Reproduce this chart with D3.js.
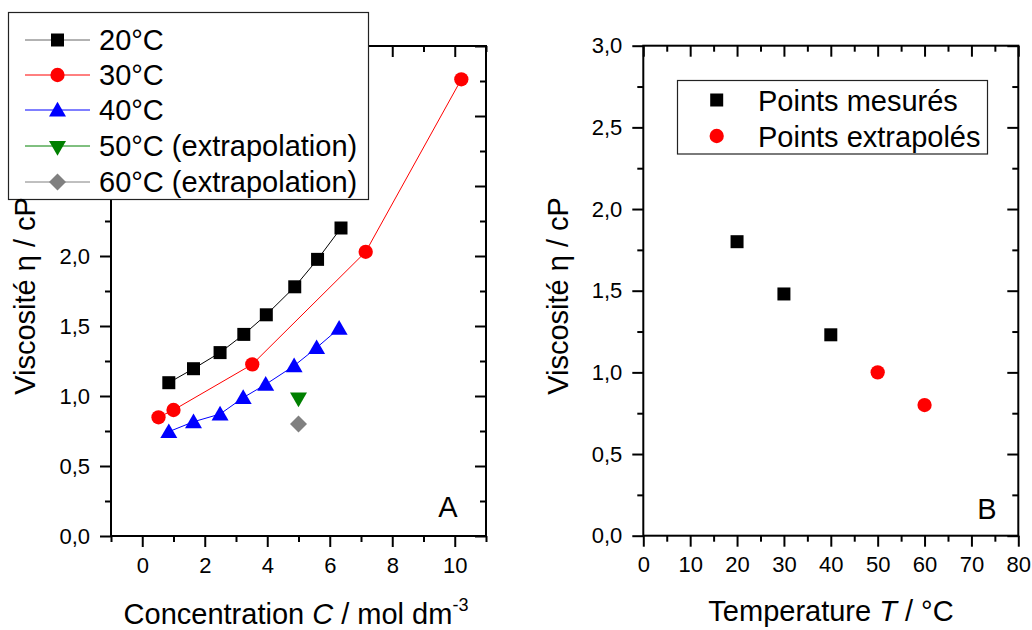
<!DOCTYPE html>
<html><head><meta charset="utf-8">
<script src="https://cdn.jsdelivr.net/npm/d3@7"></script>
<style>
html,body{margin:0;padding:0;background:#fff;}
svg{display:block;font-family:Arial,"Liberation Sans",sans-serif;}
</style></head>
<body>
<svg id="chart" width="1032" height="630"></svg>
<script>
// ---------- Data: panel A (viscosity vs concentration) ----------
const conc20 = [0.85, 1.64, 2.49, 3.25, 3.97, 4.88, 5.61, 6.36];
const visc20 = [1.095, 1.195, 1.31, 1.44, 1.58, 1.78, 1.976, 2.20];
const conc30 = [0.52, 1.0, 3.52, 7.15, 10.21];
const visc30 = [0.848, 0.90, 1.226, 2.03, 3.262];
const conc40 = [0.85, 1.64, 2.49, 3.23, 3.95, 4.86, 5.58, 6.30];
const visc40 = [0.745, 0.816, 0.871, 0.988, 1.083, 1.216, 1.345, 1.483];
const conc50 = [5.0];
const visc50 = [0.99];
const conc60 = [5.0];
const visc60 = [0.80];
const legendA = ["20°C", "30°C", "40°C", "50°C (extrapolation)", "60°C (extrapolation)"];

// ---------- Data: panel B (viscosity vs temperature) ----------
const tempMeasured = [20, 30, 40];
const viscMeasured = [1.80, 1.48, 1.23];
const tempExtrap = [50, 60];
const viscExtrap = [1.00, 0.80];
const legendB = ["Points mesurés", "Points extrapolés"];

// ---------- Ticks ----------
const xMajorA = [0, 2, 4, 6, 8, 10];
const xMinorA = [-1, 1, 3, 5, 7, 9, 11];
const yMajorA = [0, 0.5, 1.0, 1.5, 2.0, 2.5, 3.0, 3.5];
const yMinorA = [0.25, 0.75, 1.25, 1.75, 2.25, 2.75, 3.25];
const xMajorB = [0, 10, 20, 30, 40, 50, 60, 70, 80];
const xMinorB = [5, 15, 25, 35, 45, 55, 65, 75];
const yMajorB = [0, 0.5, 1.0, 1.5, 2.0, 2.5, 3.0];
const yMinorB = [0.25, 0.75, 1.25, 1.75, 2.25, 2.75];

const svg = d3.select("#chart");
const fmtY = d => d3.format(".1f")(d).replace(".", ",");
const fmtX = d => String(d);

function frame(g, x, y, xMaj, xMin, yMaj, yMin) {
  const [x0, x1] = x.range(), [y0, y1] = y.range();
  const H = y0 - y1, W = x1 - x0;
  const style = sel => {
    sel.select(".domain").remove();
    sel.selectAll(".tick line").attr("stroke", "#000").attr("stroke-width", 2);
    sel.selectAll(".tick text").attr("fill", "#000").style("font-size", "22px").style("font-family", "Arial, 'Liberation Sans', sans-serif");
  };
  // bottom
  g.append("g").attr("transform", `translate(0,${y0})`)
    .call(d3.axisBottom(x).tickValues(xMaj).tickSize(11).tickPadding(10).tickFormat(fmtX)).call(style)
    .selectAll(".tick text").attr("dy", "0.71em");
  g.append("g").attr("transform", `translate(0,${y0})`)
    .call(d3.axisBottom(x).tickValues(xMin).tickSize(6).tickFormat("")).call(style);
  // top (inward)
  g.append("g").attr("transform", `translate(0,${y1})`)
    .call(d3.axisTop(x).tickValues(xMaj).tickSize(-11).tickFormat("")).call(style);
  g.append("g").attr("transform", `translate(0,${y1})`)
    .call(d3.axisTop(x).tickValues(xMin).tickSize(-6).tickFormat("")).call(style);
  // left
  g.append("g").attr("transform", `translate(${x0},0)`)
    .call(d3.axisLeft(y).tickValues(yMaj).tickSize(11).tickPadding(10).tickFormat(fmtY)).call(style);
  g.append("g").attr("transform", `translate(${x0},0)`)
    .call(d3.axisLeft(y).tickValues(yMin).tickSize(6).tickFormat("")).call(style);
  // right (inward)
  g.append("g").attr("transform", `translate(${x1},0)`)
    .call(d3.axisRight(y).tickValues(yMaj).tickSize(-11).tickFormat("")).call(style);
  g.append("g").attr("transform", `translate(${x1},0)`)
    .call(d3.axisRight(y).tickValues(yMin).tickSize(-6).tickFormat("")).call(style);
  g.append("rect").attr("x", x0).attr("y", y1).attr("width", W).attr("height", H)
    .attr("fill", "none").attr("stroke", "#000").attr("stroke-width", 2);
}

const sym = {
  square: d3.symbol().type(d3.symbolSquare).size(169),
  circle: d3.symbol().type(d3.symbolCircle).size(160),
  triangle: d3.symbol().type(d3.symbolTriangle).size(125),
  diamond: d3.symbol().type(d3.symbolSquare).size(144)
};
function marker(g, kind, cx, cy, color) {
  let p;
  if (kind === "down") {
    p = g.append("path").attr("d", sym.triangle()).attr("transform", `translate(${cx},${cy}) rotate(180)`);
  } else if (kind === "diamond") {
    p = g.append("path").attr("d", sym.diamond()).attr("transform", `translate(${cx},${cy}) rotate(45)`);
  } else if (kind === "triangle") {
    p = g.append("path").attr("d", sym.triangle()).attr("transform", `translate(${cx},${cy + 1.5})`);
  } else {
    p = g.append("path").attr("d", sym[kind]()).attr("transform", `translate(${cx},${cy})`);
  }
  p.attr("fill", color);
}

// ================= Panel A =================
const xA = d3.scaleLinear().domain([-1, 11]).range([111, 486]);
const yA = d3.scaleLinear().domain([0, 3.5]).range([536, 46]);
const gA = svg.append("g");

const seriesA = [
  {c: conc20, v: visc20, color: "#000", line: "#000", kind: "square"},
  {c: conc30, v: visc30, color: "#ff0000", line: "#ff0000", kind: "circle"},
  {c: conc40, v: visc40, color: "#0000ff", line: "#0000ff", kind: "triangle"},
  {c: conc50, v: visc50, color: "#008000", line: "#008000", kind: "down"},
  {c: conc60, v: visc60, color: "#808080", line: "#808080", kind: "diamond"}
];
const lineGen = d3.line().x(d => xA(d[0])).y(d => yA(d[1]));
seriesA.forEach(s => {
  const pts = s.c.map((c, i) => [c, s.v[i]]);
  if (pts.length > 1) gA.append("path").attr("d", lineGen(pts)).attr("fill", "none")
    .attr("stroke", s.line).attr("stroke-width", 1);
});
seriesA.forEach(s => {
  s.c.forEach((c, i) => marker(gA, s.kind, xA(c), yA(s.v[i]), s.color));
});
frame(gA, xA, yA, xMajorA, xMinorA, yMajorA, yMinorA);

// legend A
const legA = gA.append("g");
legA.append("rect").attr("x", 8.5).attr("y", 12.5).attr("width", 360).attr("height", 187)
  .attr("fill", "#fff").attr("stroke", "#222").attr("stroke-width", 1.2);
const legRowsA = [40, 75, 110, 146, 182];
seriesA.forEach((s, i) => {
  const y = legRowsA[i];
  legA.append("line").attr("x1", 25).attr("x2", 90).attr("y1", y).attr("y2", y)
    .attr("stroke", s.line === "#000" ? "#666" : s.line).attr("stroke-width", 1);
  marker(legA, s.kind, 57.5, y, s.color);
  legA.append("text").attr("x", 99).attr("y", y + 10).style("font-size", "29px").attr("fill", "#000").text(legendA[i]);
});

gA.append("text").attr("x", 448).attr("y", 516.5).attr("text-anchor", "middle").style("font-size", "29px").text("A");
gA.append("text").attr("transform", "translate(35,296) rotate(-90)").attr("text-anchor", "middle")
  .style("font-size", "29px").text("Viscosité η / cP");
const tA = gA.append("text").attr("x", 296).attr("y", 624).attr("text-anchor", "middle").style("font-size", "29px");
tA.append("tspan").text("Concentration ");
tA.append("tspan").style("font-style", "italic").text("C");
tA.append("tspan").text(" / mol dm");
tA.append("tspan").attr("dy", -13).style("font-size", "18px").text("-3");

// ================= Panel B =================
const xB = d3.scaleLinear().domain([0, 80]).range([643.3, 1018.3]);
const yB = d3.scaleLinear().domain([0, 3]).range([535.7, 45.7]);
const gB = svg.append("g");
tempMeasured.forEach((t, i) => marker(gB, "square", xB(t), yB(viscMeasured[i]), "#000"));
tempExtrap.forEach((t, i) => marker(gB, "circle", xB(t), yB(viscExtrap[i]), "#ff0000"));
frame(gB, xB, yB, xMajorB, xMinorB, yMajorB, yMinorB);

const legB = gB.append("g");
legB.append("rect").attr("x", 677.5).attr("y", 80.5).attr("width", 310).attr("height", 73.5)
  .attr("fill", "#fff").attr("stroke", "#222").attr("stroke-width", 1.2);
marker(legB, "square", 716.7, 100, "#000");
marker(legB, "circle", 716.7, 136, "#ff0000");
legB.append("text").attr("x", 758).attr("y", 110.5).style("font-size", "29px").text(legendB[0]);
legB.append("text").attr("x", 758).attr("y", 146.5).style("font-size", "29px").text(legendB[1]);

gB.append("text").attr("x", 987).attr("y", 519).attr("text-anchor", "middle").style("font-size", "29px").text("B");
gB.append("text").attr("transform", "translate(568,296) rotate(-90)").attr("text-anchor", "middle")
  .style("font-size", "29px").text("Viscosité η / cP");
const tB = gB.append("text").attr("x", 831).attr("y", 620.5).attr("text-anchor", "middle").style("font-size", "29px");
tB.append("tspan").text("Temperature ");
tB.append("tspan").style("font-style", "italic").text("T");
tB.append("tspan").text(" / °C");
</script>
</body></html>
